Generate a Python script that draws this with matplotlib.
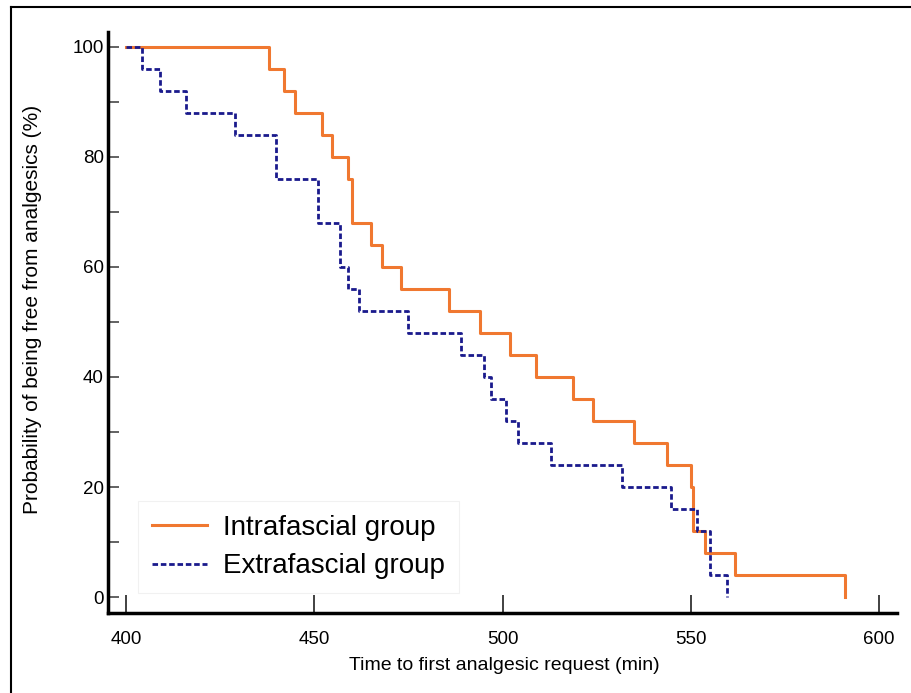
import matplotlib
matplotlib.use('Agg')
import matplotlib.pyplot as plt
from matplotlib.lines import Line2D

plt.rcParams['font.family'] = ['Liberation Sans', 'DejaVu Sans']

# Intrafascial group (Kaplan-Meier steps)
intra_time = [400, 438, 442, 445, 452, 454.6, 459, 460, 465, 468, 473, 485.7, 494, 502,
              509, 518.8, 524, 535, 543.8, 550, 550.7, 553.8, 561.8, 591]
intra_surv = [100, 96, 92, 88, 84, 80, 76, 68, 64, 60, 56, 52, 48, 44,
              40, 36, 32, 28, 24, 20, 12, 8, 4, 0]

# Extrafascial group
extra_time = [400, 404.2, 409, 416, 429, 439.8, 451, 456.8, 459, 461.8, 475, 488.9, 495,
              497, 500.8, 504, 513, 531.8, 544.8, 551.7, 555, 559.7]
extra_surv = [100, 96, 92, 88, 84, 76, 68, 60, 56, 52, 48, 44, 40,
              36, 32, 28, 24, 20, 16, 12, 4, 0]

x_ticks = [400, 450, 500, 550, 600]
y_ticks = [0, 20, 40, 60, 80, 100]

fig = plt.figure(figsize=(9.11, 6.93), dpi=100)
ax = fig.add_axes([0.1186, 0.1154, 0.866, 0.8384])

orange = '#F07830'
navy = '#1A1A8C'

ax.step(intra_time, intra_surv, where='post', color=orange, lw=2.2)
ax.step(extra_time, extra_surv, where='post', color=navy, lw=2.0, ls=(0, (2, 1)))

ax.set_xlim(395.2, 604.8)
ax.set_ylim(-2.9, 102.7)
ax.set_xticks(x_ticks)
ax.set_yticks(y_ticks)
ax.set_yticks([10, 30, 50, 70, 90], minor=True)
ax.tick_params(axis='x', direction='in', length=13, width=1.3, color='#333333',
               labelsize=13.5, pad=13)
ax.tick_params(axis='y', which='both', direction='in', length=8, width=1.3, color='#555555',
               labelsize=13.5, pad=3)

for s in ['top', 'right']:
    ax.spines[s].set_visible(False)
for s in ['left', 'bottom']:
    ax.spines[s].set_linewidth(2.5)

fig.text(0.554, 0.040, 'Time to first analgesic request (min)', ha='center', va='center', fontsize=14)
fig.text(0.036, 0.554, 'Probability of being free from analgesics (%)', ha='center', va='center',
         rotation=90, fontsize=15)

handles = [Line2D([0], [0], color=orange, lw=2.2),
           Line2D([0], [0], color=navy, lw=2.0, ls=(0, (2, 1)))]
leg = ax.legend(handles, ['Intrafascial group', 'Extrafascial group'], loc='lower left',
                bbox_to_anchor=(0.038, 0.034), borderaxespad=0, fontsize=20, frameon=True,
                fancybox=False, handlelength=2.0, handletextpad=0.55, borderpad=0.5,
                labelspacing=0.45)
leg.get_frame().set_edgecolor('#eeeeee')
leg.get_frame().set_linewidth(0.8)

# figure border lines (left and top)
fig.add_artist(Line2D([10.5 / 911, 10.5 / 911], [0, 1 - 7 / 693], color='black', lw=1.5,
                      transform=fig.transFigure))
fig.add_artist(Line2D([10.5 / 911, 1], [1 - 7 / 693, 1 - 7 / 693], color='black', lw=1.5,
                      transform=fig.transFigure))

fig.savefig('out.png', dpi=100)
